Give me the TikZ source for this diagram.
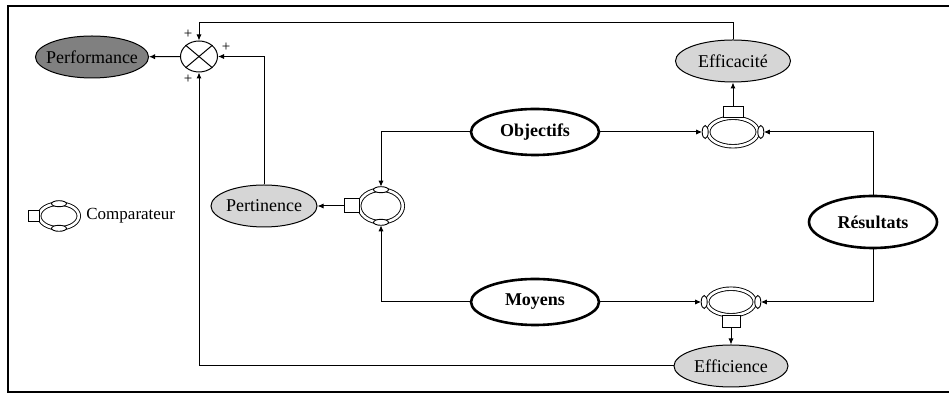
\documentclass[tikz,border=0pt]{standalone}
\usepackage{fontspec}
\setmainfont{Liberation Serif}
\usetikzlibrary{shapes.geometric,arrows.meta,positioning}
\tikzset{
  fleche/.style={-{Latex[length=3pt,width=2.6pt]},line width=0.5pt},
  indic/.style={ellipse,draw,line width=0.5pt,fill=black!16,minimum width=56pt,minimum height=21pt,inner sep=0pt,font=\fontsize{9}{10}\selectfont},
  donnee/.style={ellipse,draw,line width=1.3pt,minimum width=64pt,minimum height=23pt,inner sep=0pt,font=\bfseries\fontsize{9}{10}\selectfont},
  comp/.style={ellipse,draw,double,double distance=1.3pt,line width=0.45pt,inner sep=0pt,outer sep=0pt},
  ovalh/.style={ellipse,draw,fill=white,line width=0.45pt,minimum width=7.5pt,minimum height=3pt,inner sep=0pt,outer sep=0pt},
  ovalv/.style={ellipse,draw,fill=white,line width=0.45pt,minimum width=3pt,minimum height=6.5pt,inner sep=0pt,outer sep=0pt},
  sortie/.style={rectangle,draw,fill=white,line width=0.5pt,inner sep=0pt,outer sep=0pt},
  signe/.style={font=\fontsize{7.5}{8}\selectfont,inner sep=0pt}
}
\begin{document}
\begin{tikzpicture}[x=0.5pt,y=-0.5pt]
\useasboundingbox (0,0) rectangle (949,394);
\draw[line width=1pt] (949,6) -- (8,6) -- (8,392) -- (949,392);

\node[indic,fill=black!50,minimum width=56.5pt,inner xsep=-3pt] (perf) at (92,57) {Performance};
\node[ellipse,draw,line width=0.5pt,minimum width=18.5pt,minimum height=15.5pt,inner sep=0pt] (sum) at (199,56.5) {};
\draw[line width=0.5pt] (sum.north west) -- (sum.south east);
\draw[line width=0.5pt] (sum.north east) -- (sum.south west);
\node[signe] (p1) at (188,34) {+};
\node[signe] (p2) at (226,47) {+};
\node[signe] (p3) at (188,79) {+};

\node[indic,minimum width=57.5pt] (effa) at (733,61) {Efficacité};
\node[indic,minimum width=53pt,inner xsep=-1pt] (pert) at (264,206) {Pertinence};
\node[indic,minimum width=57pt] (effi) at (731,366) {Efficience};

\node[donnee] (obj) at (535,132) {Objectifs};
\node[donnee] (moy) at (535,302) {Moyens};
\node[donnee,minimum height=26pt] (res) at (873,222) {Résultats};

\node[comp,minimum width=21.8pt,minimum height=16.3pt] (cP) at (381,206) {};
\node[ovalh] (oPh) at (cP.north) {};
\node[ovalh] (oPb) at (cP.south) {};
\node[sortie,minimum width=7.5pt,minimum height=7pt,anchor=east] (sP) at (cP.west) {};

\node[comp,minimum width=24.8pt,minimum height=14.3pt] (cE) at (733,132) {};
\node[ovalv,anchor=east] (oEg) at (cE.west) {};
\node[ovalv,anchor=west] (oEd) at (cE.east) {};
\node[sortie,minimum width=10pt,minimum height=5.5pt,anchor=south] (sE) at (cE.north) {};

\node[comp,minimum width=23.8pt,minimum height=13.3pt] (cM) at (731,302) {};
\node[ovalv,anchor=east] (oMg) at (cM.west) {};
\node[ovalv,anchor=west] (oMd) at (cM.east) {};
\node[sortie,minimum width=9pt,minimum height=6pt,anchor=north] (sM) at (cM.south) {};

\draw[fleche] (sum) -- (perf);
\draw[fleche] (effa.north) -- ++(0,-17) -| (sum.north);
\draw[fleche] (pert.north) |- (sum.east);
\draw[fleche] (effi.west) -| (sum.south);
\draw[fleche] (sP) -- (pert);
\draw[fleche] (obj.west) -| (oPh.north);
\draw[fleche] (moy.west) -| (oPb.south);
\draw[fleche] (obj.east) -- (oEg.west);
\draw[fleche] (moy.east) -- (oMg.west);
\draw[fleche] (res.north) |- (oEd.east);
\draw[fleche] (res.south) |- (oMd.east);
\draw[fleche] (sE.north) -- (effa.south);
\draw[fleche] (sM.south) -- (effi.north);

\node[comp,minimum width=19.8pt,minimum height=12.3pt] (cL) at (59,216) {};
\node[ovalh] (oLh) at (cL.north) {};
\node[ovalh] (oLb) at (cL.south) {};
\node[sortie,minimum width=5.5pt,minimum height=5.5pt,anchor=east] (sL) at (cL.west) {};
\node[anchor=west,inner sep=0pt,font=\fontsize{8.5}{9}\selectfont] (legende) at (86,216) {Comparateur};
\end{tikzpicture}
\end{document}
